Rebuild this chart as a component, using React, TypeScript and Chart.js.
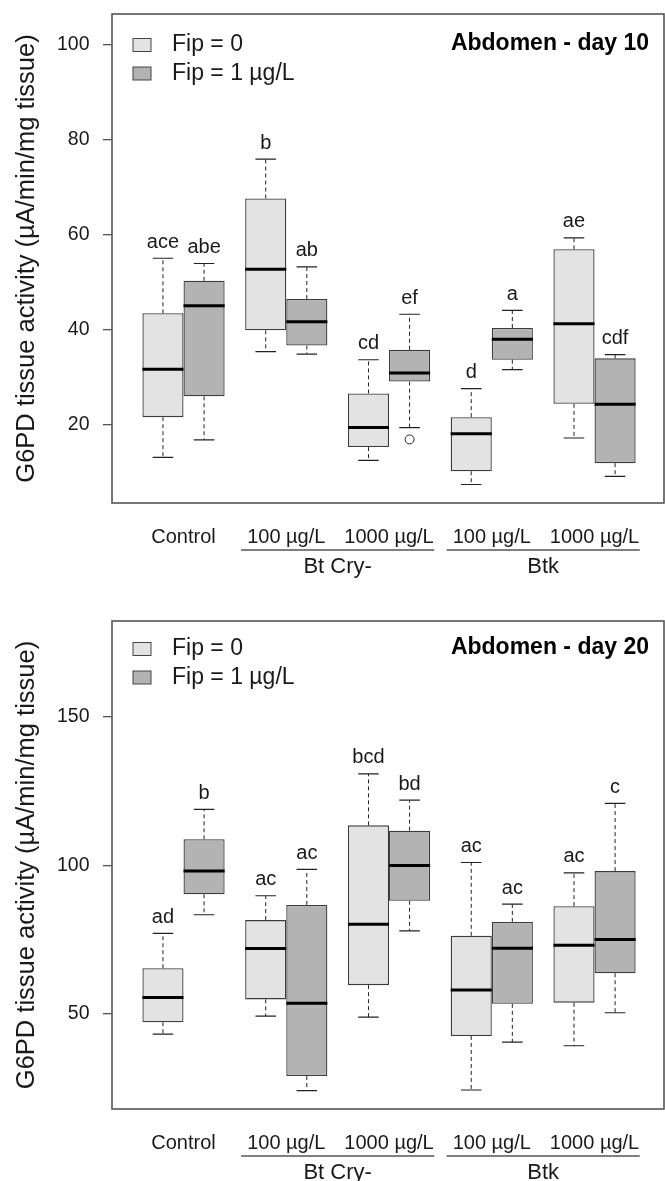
import React, { useEffect, useRef } from "react";
import { Chart, registerables } from "chart.js";

Chart.register(...registerables);

const FONT = "'Liberation Sans', Arial, Helvetica, sans-serif";
const TEXT = "#1a1a1a";
const AXIS = "#555555";

// x groups (pair centres on a linear axis)
const groupLabels = ["Control", "100 µg/L", "1000 µg/L", "100 µg/L", "1000 µg/L"];
const groupPositions = [1.5, 4, 6.5, 9, 11.5];
const treatmentLabels = ["Bt Cry-", "Btk"];
const treatmentSpans = [[1, 2], [3, 4]];
const seriesLabels = ["Fip = 0", "Fip = 1 µg/L"];
const seriesColors = ["#e3e3e3", "#b3b3b3"];

// each entry: [lower whisker, Q1, median, Q3, upper whisker]
const day10Fip0 = [
  [13.0, 21.5, 31.6, 43.4, 55.0],
  [35.3, 39.8, 52.7, 67.6, 75.9],
  [12.4, 15.2, 19.3, 26.5, 33.6],
  [7.3, 10.1, 18.0, 21.5, 27.5],
  [17.1, 24.3, 41.2, 56.9, 59.3],
];
const day10Fip1 = [
  [16.7, 25.9, 45.0, 50.25, 53.9],
  [34.8, 36.6, 41.6, 46.4, 53.2],
  [19.3, 29.0, 30.8, 35.7, 43.2],
  [31.5, 33.6, 37.9, 40.3, 44.0],
  [9.0, 11.8, 24.2, 33.9, 34.7],
];
const day10Fip0Outliers = [[], [], [], [], []];
const day10Fip1Outliers = [[], [], [16.8], [], []];
const day10Fip0Letters = ["ace", "b", "cd", "d", "ae"];
const day10Fip1Letters = ["abe", "ab", "ef", "a", "cdf"];
const day10YTicks = [20, 40, 60, 80, 100];

const day20Fip0 = [
  [43.2, 47.2, 55.5, 65.4, 77.1],
  [49.3, 54.9, 72.0, 81.6, 89.8],
  [48.9, 59.7, 80.2, 113.5, 130.8],
  [24.4, 42.6, 58.1, 76.3, 101.0],
  [39.3, 53.8, 73.1, 86.3, 97.5],
];
const day20Fip1 = [
  [83.4, 90.3, 98.1, 108.8, 118.9],
  [24.2, 29.1, 53.6, 86.7, 98.7],
  [78.0, 88.1, 100.0, 111.7, 122.0],
  [40.5, 53.4, 72.1, 81.0, 87.0],
  [50.4, 63.7, 75.1, 98.1, 120.9],
];
const day20Fip0Outliers = [[], [], [], [], []];
const day20Fip1Outliers = [[], [], [], [], []];
const day20Fip0Letters = ["ad", "ac", "bcd", "ac", "ac"];
const day20Fip1Letters = ["b", "ac", "bd", "ac", "c"];
const day20YTicks = [50, 100, 150];

const yTitle = "G6PD tissue activity (µA/min/mg tissue)";

type PanelCfg = {
  title: string;
  top: number;
  height: number;
  padTop: number;
  xAxisH: number;
  headerOffset: number;
  yMin: number;
  yMax: number;
  yTicks: number[];
  stats: number[][][];
  outliers: number[][][];
  letters: string[][];
};

const panels: PanelCfg[] = [
  {
    title: "Abdomen - day 10",
    top: 0,
    height: 590,
    padTop: 14,
    xAxisH: 87,
    headerOffset: 31,
    yMin: 3.4,
    yMax: 106.5,
    yTicks: day10YTicks,
    stats: [day10Fip0, day10Fip1],
    outliers: [day10Fip0Outliers, day10Fip1Outliers],
    letters: [day10Fip0Letters, day10Fip1Letters],
  },
  {
    title: "Abdomen - day 20",
    top: 590,
    height: 591,
    padTop: 31,
    xAxisH: 72,
    headerOffset: 28,
    yMin: 18,
    yMax: 182.3,
    yTicks: day20YTicks,
    stats: [day20Fip0, day20Fip1],
    outliers: [day20Fip0Outliers, day20Fip1Outliers],
    letters: [day20Fip0Letters, day20Fip1Letters],
  },
];

function makePlugin(cfg: PanelCfg) {
  return {
    id: "boxExtras",
    beforeDatasetsDraw(chart: any) {
      const ctx = chart.ctx;
      const ys = chart.scales.y;
      ctx.save();
      cfg.stats.forEach((series, i) => {
        const meta = chart.getDatasetMeta(i);
        series.forEach((s, j) => {
          const el = meta.data[j];
          const cx = el.x;
          const w = el.width;
          const [lo, q1, , q3, hi] = s;
          ctx.strokeStyle = "#222";
          ctx.lineWidth = 1;
          ctx.setLineDash([4, 3]);
          ctx.beginPath();
          ctx.moveTo(cx, ys.getPixelForValue(q3));
          ctx.lineTo(cx, ys.getPixelForValue(hi));
          ctx.moveTo(cx, ys.getPixelForValue(q1));
          ctx.lineTo(cx, ys.getPixelForValue(lo));
          ctx.stroke();
          ctx.setLineDash([]);
          ctx.lineWidth = 1.2;
          ctx.beginPath();
          ctx.moveTo(cx - w / 4, ys.getPixelForValue(hi));
          ctx.lineTo(cx + w / 4, ys.getPixelForValue(hi));
          ctx.moveTo(cx - w / 4, ys.getPixelForValue(lo));
          ctx.lineTo(cx + w / 4, ys.getPixelForValue(lo));
          ctx.stroke();
        });
      });
      ctx.restore();
    },
    afterDatasetsDraw(chart: any) {
      const ctx = chart.ctx;
      const ys = chart.scales.y;
      ctx.save();
      cfg.stats.forEach((series, i) => {
        const meta = chart.getDatasetMeta(i);
        series.forEach((s, j) => {
          const el = meta.data[j];
          const cx = el.x;
          const w = el.width;
          const med = s[2];
          const hi = s[4];
          ctx.strokeStyle = "#000";
          ctx.lineWidth = 3;
          ctx.beginPath();
          ctx.moveTo(cx - w / 2, ys.getPixelForValue(med));
          ctx.lineTo(cx + w / 2, ys.getPixelForValue(med));
          ctx.stroke();
          // outliers
          ctx.lineWidth = 1;
          ctx.strokeStyle = "#222";
          cfg.outliers[i][j].forEach((v) => {
            ctx.beginPath();
            ctx.arc(cx, ys.getPixelForValue(v), 4.5, 0, Math.PI * 2);
            ctx.stroke();
          });
          // letters
          ctx.fillStyle = TEXT;
          ctx.font = `20px ${FONT}`;
          ctx.textAlign = "center";
          ctx.textBaseline = "middle";
          ctx.fillText(cfg.letters[i][j], cx, ys.getPixelForValue(hi) - 16);
        });
      });
      ctx.restore();
    },
    afterDraw(chart: any) {
      const ctx = chart.ctx;
      const area = chart.chartArea;
      const xs = chart.scales.x;
      ctx.save();
      // frame
      ctx.strokeStyle = AXIS;
      ctx.lineWidth = 1.6;
      ctx.strokeRect(area.left, area.top, area.right - area.left, area.bottom - area.top);

      // legend
      const legX = area.left + 21;
      seriesLabels.forEach((lab, i) => {
        const cy = area.top + cfg.headerOffset + i * 28.5;
        ctx.fillStyle = seriesColors[i];
        ctx.fillRect(legX, cy - 6.5, 18, 13);
        ctx.strokeStyle = "#444";
        ctx.lineWidth = 1;
        ctx.strokeRect(legX, cy - 6.5, 18, 13);
        ctx.fillStyle = TEXT;
        ctx.font = `23px ${FONT}`;
        ctx.textAlign = "left";
        ctx.textBaseline = "middle";
        ctx.fillText(lab, legX + 39, cy);
      });

      // title
      ctx.fillStyle = "#000";
      ctx.font = `bold 23px ${FONT}`;
      ctx.textAlign = "right";
      ctx.textBaseline = "middle";
      ctx.fillText(cfg.title, area.right - 15, area.top + cfg.headerOffset - 1);

      // x labels
      ctx.fillStyle = TEXT;
      ctx.font = `20px ${FONT}`;
      ctx.textAlign = "center";
      ctx.textBaseline = "middle";
      groupLabels.forEach((lab, j) => {
        ctx.fillText(lab, xs.getPixelForValue(groupPositions[j]), area.bottom + 34);
      });
      treatmentSpans.forEach((span, k) => {
        const x1 = xs.getPixelForValue(groupPositions[span[0]] - 1.1);
        const x2 = xs.getPixelForValue(groupPositions[span[1]] + 1.1);
        ctx.strokeStyle = AXIS;
        ctx.lineWidth = 1.3;
        ctx.beginPath();
        ctx.moveTo(x1, area.bottom + 47);
        ctx.lineTo(x2, area.bottom + 47);
        ctx.stroke();
        ctx.fillStyle = TEXT;
        ctx.font = `22px ${FONT}`;
        ctx.fillText(treatmentLabels[k], (x1 + x2) / 2, area.bottom + 64);
      });
      ctx.restore();
    },
  };
}

function Panel({ cfg }: { cfg: PanelCfg }) {
  const ref = useRef<HTMLCanvasElement>(null);
  useEffect(() => {
    if (!ref.current) return;
    const datasets = cfg.stats.map((series, i) => ({
      label: seriesLabels[i],
      data: series.map((s, j) => ({ x: groupPositions[j], y: [s[1], s[3]] })),
      backgroundColor: seriesColors[i],
      borderColor: "#3c3c3c",
      borderWidth: 1.3,
      borderSkipped: false,
      categoryPercentage: 0.8,
      barPercentage: 1,
    }));
    const chart = new Chart(ref.current, {
      type: "bar",
      data: { datasets } as any,
      options: {
        animation: false,
        responsive: false,
        devicePixelRatio: 1,
        layout: { padding: { top: cfg.padTop, right: 1, left: 0, bottom: 0 } },
        plugins: {
          legend: { display: false },
          tooltip: { enabled: false },
        },
        scales: {
          x: {
            type: "linear",
            min: -0.24,
            max: 13.19,
            offset: false,
            grid: { display: false },
            border: { display: false },
            ticks: { display: false },
            afterBuildTicks: (s: any) => {
              s.ticks = groupPositions.map((v) => ({ value: v }));
            },
            afterFit: (s: any) => {
              s.height = cfg.xAxisH;
              s.paddingLeft = 0;
              s.paddingRight = 0;
            },
          },
          y: {
            type: "linear",
            min: cfg.yMin,
            max: cfg.yMax,
            grid: {
              drawOnChartArea: false,
              drawTicks: true,
              tickLength: 9,
              color: AXIS,
              lineWidth: 1.3,
            },
            border: { display: false },
            ticks: {
              color: TEXT,
              padding: 13.5,
              font: { family: FONT, size: 19.5 },
            },
            afterBuildTicks: (s: any) => {
              s.ticks = cfg.yTicks.map((v) => ({ value: v }));
            },
            title: {
              display: true,
              text: yTitle,
              color: TEXT,
              font: { family: FONT, size: 25.5, lineHeight: 1.2 },
              padding: { top: 12, bottom: 0 },
            },
            afterFit: (s: any) => {
              s.width = 112;
              s.paddingTop = 0;
              s.paddingBottom = 0;
            },
          },
        },
      } as any,
      plugins: [makePlugin(cfg)],
    });
    return () => chart.destroy();
  }, [cfg]);
  return (
    <canvas
      ref={ref}
      width={665}
      height={cfg.height}
      style={{ position: "absolute", left: 0, top: cfg.top, display: "block" }}
    />
  );
}

export default function App() {
  return (
    <div
      style={{
        position: "absolute",
        left: 0,
        top: 0,
        width: 665,
        height: 1181,
        background: "#fff",
        overflow: "hidden",
      }}
    >
      {panels.map((p, i) => (
        <Panel key={i} cfg={p} />
      ))}
    </div>
  );
}
